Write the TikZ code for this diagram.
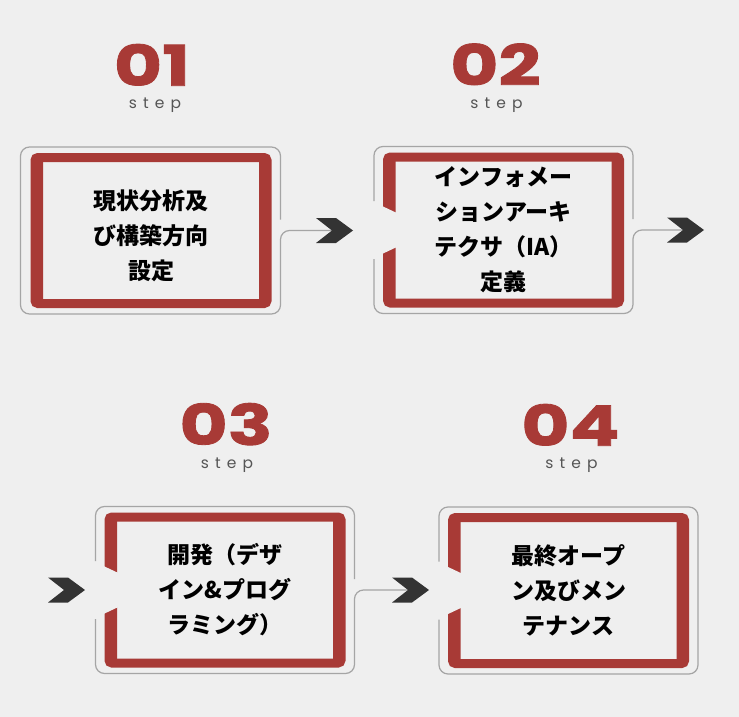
\documentclass[tikz,border=0pt]{standalone}
\usepackage{fontspec}
\usetikzlibrary{calc,positioning}
\newfontfamily\jpfont{Noto Sans CJK JP}
\newfontfamily\numfont{Poppins}[FakeStretch=1.32, FakeBold=1.5]
\newfontfamily\stepfont{Poppins}[LetterSpace=40]
\definecolor{boxred}{RGB}{168,58,54}
\definecolor{bgcol}{RGB}{239,239,239}
\definecolor{framegray}{RGB}{165,165,165}
\definecolor{chevgray}{RGB}{51,51,51}
\definecolor{stepgray}{RGB}{85,85,85}
\begin{document}
\begin{tikzpicture}[x=1pt, y=-1pt,
				redbox/.style={draw=boxred, fill=bgcol, line width=9pt, outer sep=4.5pt, rounded corners=3pt, minimum width=232pt, minimum height=146pt, inner sep=0, align=center, text=black, font=\jpfont\bfseries\fontsize{23}{35}\selectfont,
					path picture={\fill[boxred] (path picture bounding box.north west) rectangle ([xshift=8pt]path picture bounding box.south west);
						\fill[boxred] (path picture bounding box.north east) rectangle ([xshift=-8pt]path picture bounding box.south east);}},
				boxframe/.style={draw=framegray, line width=1.2pt, rounded corners=9pt},
				stepnum/.style={text=boxred, inner sep=0, font=\numfont\bfseries\fontsize{56}{56}\selectfont},
				steplbl/.style={text=stepgray, inner sep=0, font=\stepfont\fontsize{15.5}{15.5}\selectfont},
				chevron/.pic={\fill[chevgray] (-16,-12.5) -- (4,-12.5) -- (21,0) -- (4,12.5) -- (-16,12.5) -- (0,0) -- cycle;}]
				
				\fill[bgcol] (0,0) rectangle (739,717);
				
				\node [redbox] (b1) at (151,230.5) {\rule{0pt}{30pt}現状分析及\\び構築方向\\設定};
				\node [redbox] (b2) at (503.5,230) {インフォメー\\ションアーキ\\テクサ（IA）\\定義};
				\node [redbox] (b3) at (225,590) {開発（デザ\\イン\&プログ\\ラミング）};
				\node [redbox] (b4) at (568.5,590.5) {最終オープ\\ン及びメン\\テナンス};
				
				\node [steplbl,above=40pt of b1,xshift=4pt] (s1) {step};
				\node [steplbl,above=40pt of b2,xshift=-7pt] (s2) {step};
				\node [steplbl,above=40pt of b3,xshift=2pt] (s3) {step};
				\node [steplbl,above=40pt of b4,xshift=3pt] (s4) {step};
				\node [stepnum,above=12pt of s1,xshift=-3pt] (n1) {01};
				\node [stepnum,above=12pt of s2,xshift=-1pt] (n2) {02};
				\node [stepnum,above=12pt of s3,xshift=-1pt] (n3) {03};
				\node [stepnum,above=12pt of s4,xshift=-1pt] (n4) {04};
				
				\coordinate (a1) at (332,230.5);
				\coordinate (a2) at (683,230);
				\coordinate (a3) at (64,590);
				\coordinate (a4) at (408,590);
				
				\foreach \b in {b2,b3,b4}
					\fill[bgcol] ($(\b.west)+(-1,-24)$) -- ($(\b.west)+(16,-16)$) -- ($(\b.west)+(16,16)$) -- ($(\b.west)+(-1,24)$) -- cycle;
				
				\draw[boxframe] ($(b1.east)+(9,-11)$) |- ($(b1.north west)+(-10,-6)$) |- ($(b1.south east)+(9,6)$) -- ($(b1.east)+(9,0)$) -- (a1);
				\draw[boxframe] ($(b2.west)+(-9,-29)$) |- ($(b2.north east)+(9,-6)$) -- ($(b2.east)+(9,-11)$);
				\draw[boxframe] ($(b2.west)+(-9,29)$) |- ($(b2.south east)+(9,6)$) -- ($(b2.east)+(9,0)$) -- (a2);
				\draw[boxframe] ($(b3.west)+(-9,-29)$) |- ($(b3.north east)+(9,-6)$) -- ($(b3.east)+(9,-11)$);
				\draw[boxframe] ($(b3.west)+(-9,29)$) |- ($(b3.south east)+(9,6)$) -- ($(b3.east)+(9,0)$) -- (a4);
				\draw[boxframe] ($(b4.west)+(-9,29)$) |- ($(b4.south east)+(9,6)$) |- ($(b4.north west)+(-9,-6)$) -- ($(b4.west)+(-9,-29)$);
				
				\foreach \a in {a1,a2,a3,a4}
					\pic at (\a) {chevron};
				\end{tikzpicture}
\end{document}
